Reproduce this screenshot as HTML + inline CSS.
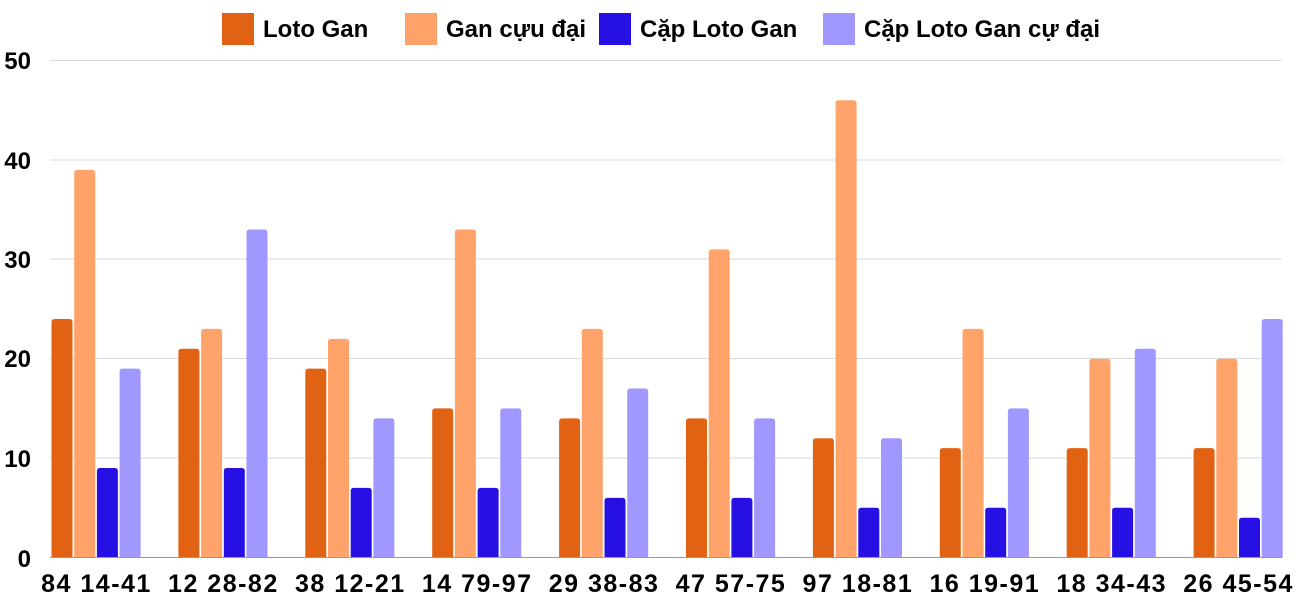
<!DOCTYPE html>
<html><head><meta charset="utf-8"><style>
body{margin:0;background:#fff}
svg text{font-family:"Liberation Sans",sans-serif;font-weight:bold;fill:#000}
</style></head><body>
<svg width="1300" height="600" xmlns="http://www.w3.org/2000/svg">
<g stroke="#d9d9d9" stroke-width="1">
<line x1="50" x2="1282" y1="60.5" y2="60.5"/>
<line x1="50" x2="1282" y1="160" y2="160"/>
<line x1="50" x2="1282" y1="259" y2="259"/>
<line x1="50" x2="1282" y1="358.5" y2="358.5"/>
<line x1="50" x2="1282" y1="458" y2="458"/>
</g>
<g font-size="24" text-anchor="end">
<text x="31" y="69">50</text>
<text x="31" y="169">40</text>
<text x="31" y="268">30</text>
<text x="31" y="367">20</text>
<text x="31" y="467">10</text>
<text x="31" y="567">0</text>
</g>
<g id="bars"></g>
<line x1="50" x2="1282" y1="557.5" y2="557.5" stroke="#999" stroke-width="1"/>
<g font-size="24">
<rect x="222" y="13" width="32" height="32" fill="#e26214"/><text x="263" y="37">Loto Gan</text>
<rect x="405" y="13" width="32" height="32" fill="#ffa36b"/><text x="446" y="37">Gan cựu đại</text>
<rect x="599" y="13" width="32" height="32" fill="#2610e3"/><text x="640" y="37">Cặp Loto Gan</text>
<rect x="823" y="13" width="32" height="32" fill="#a097ff"/><text x="864" y="37">Cặp Loto Gan cự đại</text>
</g>
<g font-size="25" letter-spacing="1.5" text-anchor="middle" id="labels"></g>
</svg>
<script>
var d=[[24,39,9,19,"84 14-41"],[21,23,9,33,"12 28-82"],[19,22,7,14,"38 12-21"],[15,33,7,15,"14 79-97"],[14,23,6,17,"29 38-83"],[14,31,6,14,"47 57-75"],[12,46,5,12,"97 18-81"],[11,23,5,15,"16 19-91"],[11,20,5,21,"18 34-43"],[11,20,4,24,"26 45-54"]];
var c=["#e26214","#ffa36b","#2610e3","#a097ff"],s="",l="";
d.forEach(function(r,i){var x0=51.5+i*126.9;
for(var k=0;k<4;k++){var h=r[k]*9.94,x=x0+k*22.7;
s+='<path fill="'+c[k]+'" d="M'+x+' 557.5V'+(557.5-h+3)+'q0 -3 3 -3h15q3 0 3 3V557.5z"/>';}
l+='<text x="'+(x0+45)+'" y="592">'+r[4]+'</text>';});
document.getElementById("bars").innerHTML=s;
document.getElementById("labels").innerHTML=l;
</script>
</body></html>
